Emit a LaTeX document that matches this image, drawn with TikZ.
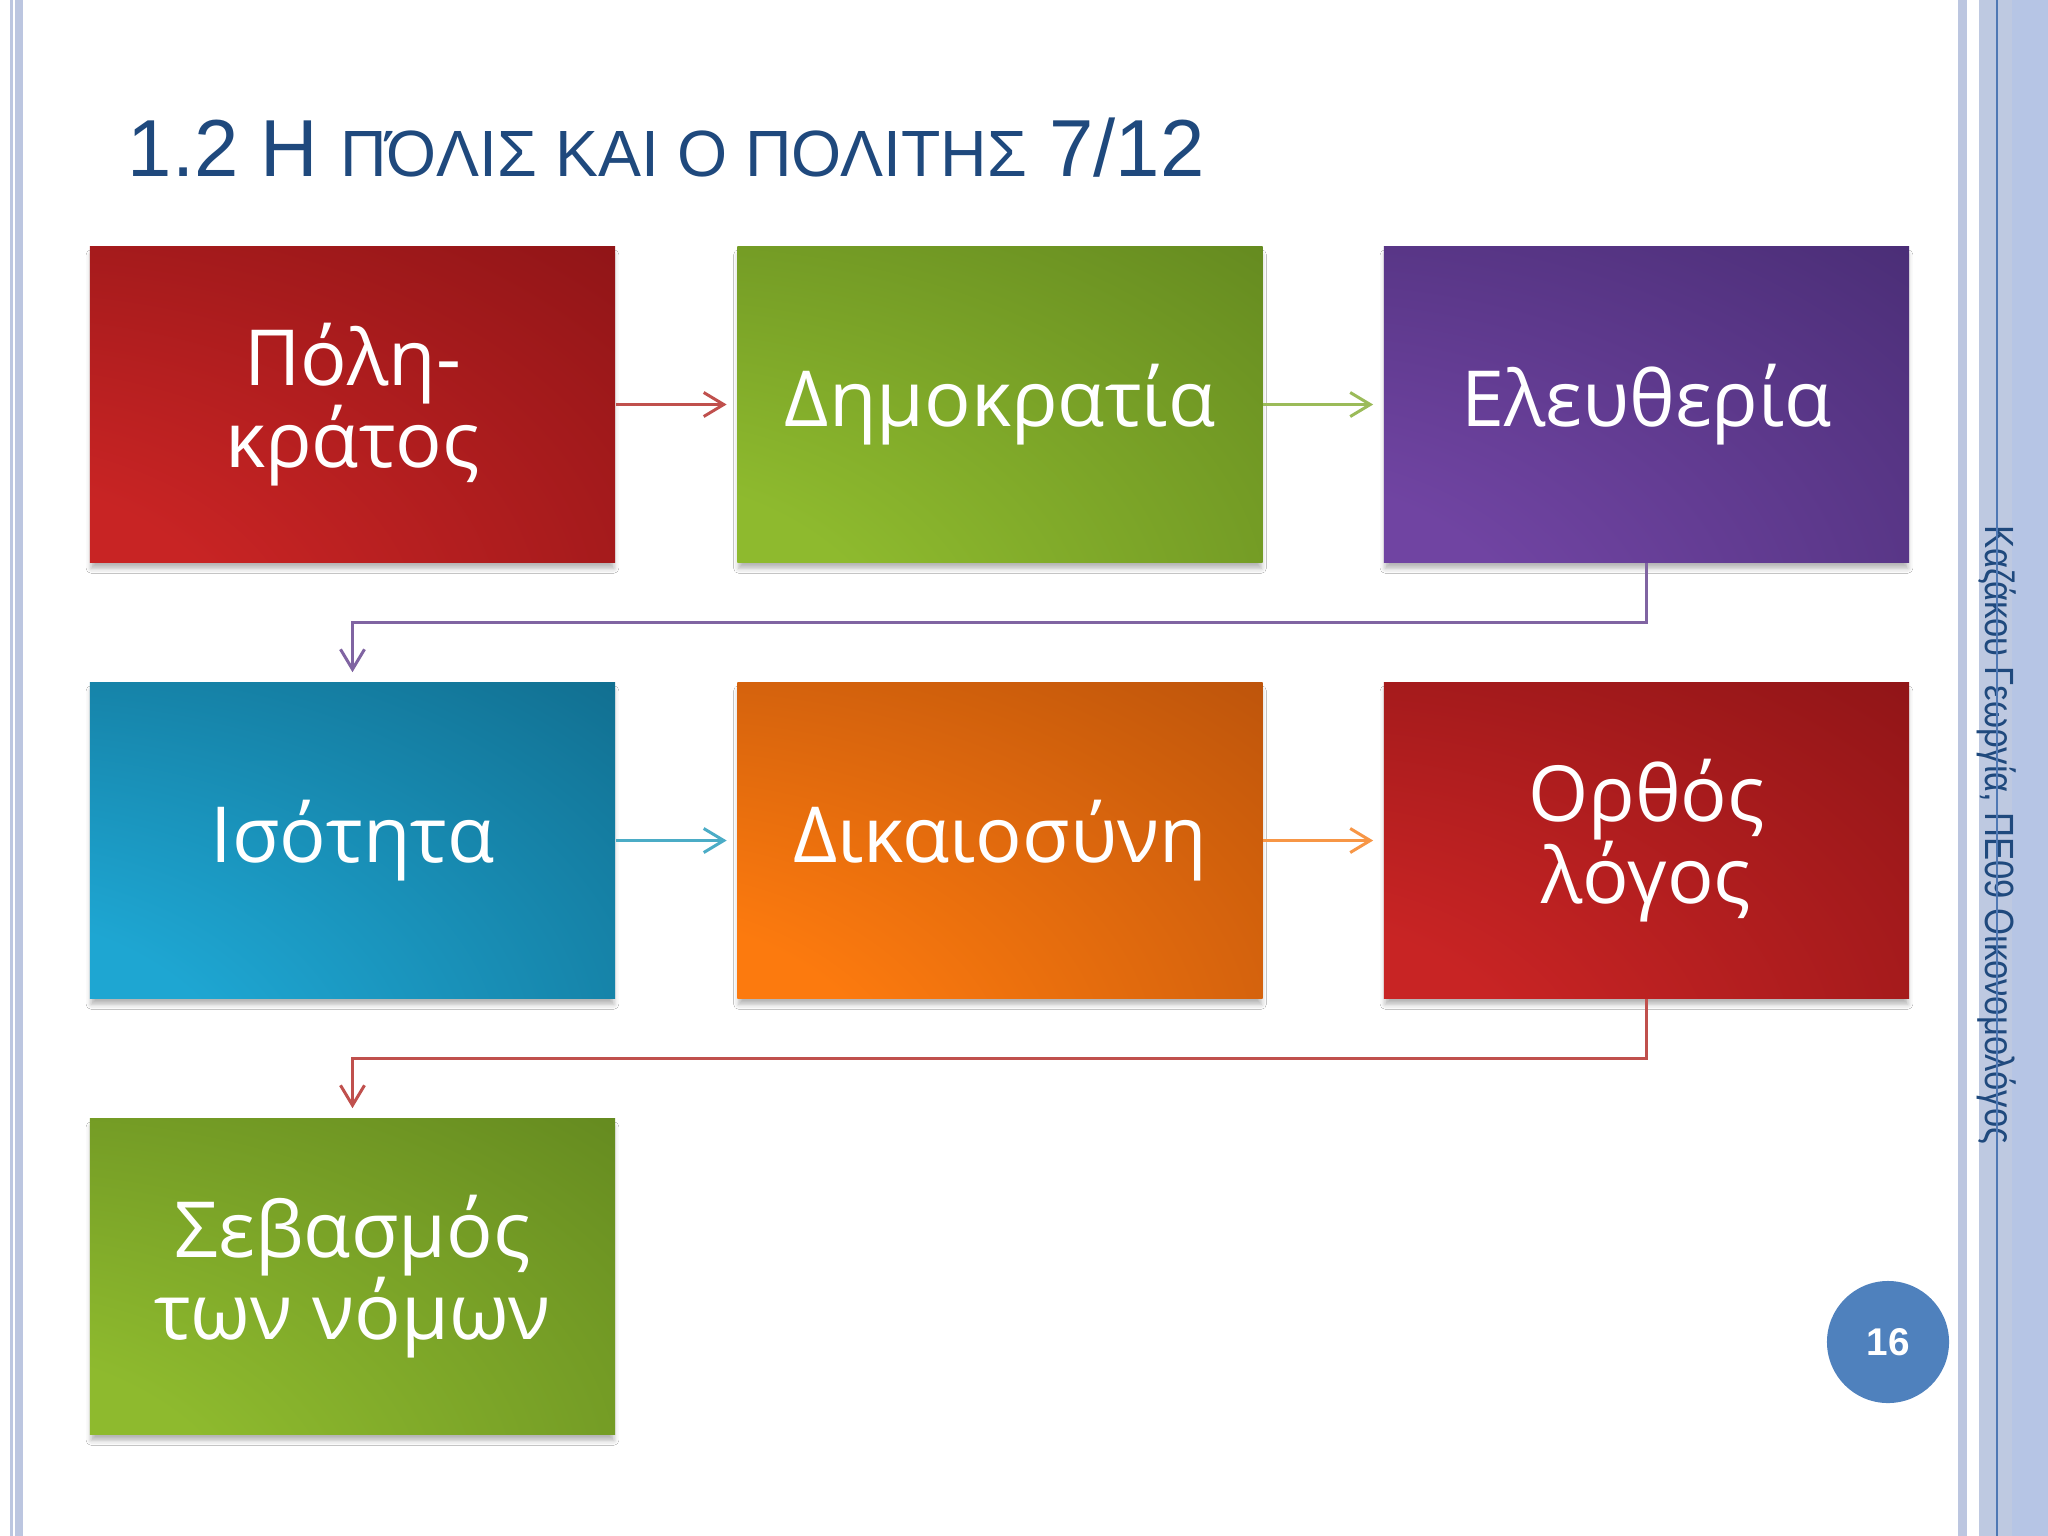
\documentclass[tikz,border=0pt]{standalone}
\usepackage{fontspec}
\setmainfont{Open Sans}
\newfontfamily\boxfont{Open Sans}
\newfontfamily\titlefont[FakeStretch=0.985]{Liberation Sans}
\newfontfamily\narrowfont[FakeStretch=0.85]{Liberation Sans}
\newfontfamily\numfont{Liberation Sans}
\usetikzlibrary{arrows.meta,shadows.blur}

\definecolor{titleblue}{RGB}{31,73,125}
\definecolor{stripeA}{RGB}{188,198,224}
\definecolor{stripeB}{RGB}{190,201,225}
\definecolor{stripeC}{RGB}{182,197,229}
\definecolor{stripeLine}{RGB}{79,120,180}
\definecolor{pageblue}{RGB}{79,129,189}

\definecolor{redB}{RGB}{200,36,36}
\definecolor{redD}{RGB}{105,10,14}
\definecolor{greenB}{RGB}{142,186,46}
\definecolor{greenD}{RGB}{72,105,22}
\definecolor{purpleB}{RGB}{112,68,162}
\definecolor{purpleD}{RGB}{48,30,88}
\definecolor{tealB}{RGB}{30,166,210}
\definecolor{tealD}{RGB}{8,72,98}
\definecolor{orangeB}{RGB}{252,122,14}
\definecolor{orangeD}{RGB}{145,58,10}

\definecolor{cRed}{RGB}{192,80,77}
\definecolor{cGreen}{RGB}{155,187,89}
\definecolor{cPurple}{RGB}{128,100,162}
\definecolor{cTeal}{RGB}{75,172,198}
\definecolor{cOrange}{RGB}{247,150,70}

\pgfdeclareradialshading{shRed}{\pgfpoint{-50bp}{-50bp}}{color(0bp)=(redB); color(30bp)=(redB); color(105bp)=(redD); color(160bp)=(redD)}
\pgfdeclareradialshading{shGreen}{\pgfpoint{-50bp}{-50bp}}{color(0bp)=(greenB); color(30bp)=(greenB); color(105bp)=(greenD); color(160bp)=(greenD)}
\pgfdeclareradialshading{shPurple}{\pgfpoint{-50bp}{-50bp}}{color(0bp)=(purpleB); color(30bp)=(purpleB); color(105bp)=(purpleD); color(160bp)=(purpleD)}
\pgfdeclareradialshading{shTeal}{\pgfpoint{-50bp}{-50bp}}{color(0bp)=(tealB); color(30bp)=(tealB); color(105bp)=(tealD); color(160bp)=(tealD)}
\pgfdeclareradialshading{shOrange}{\pgfpoint{-50bp}{-50bp}}{color(0bp)=(orangeB); color(30bp)=(orangeB); color(105bp)=(orangeD); color(160bp)=(orangeD)}

\tikzset{
  box/.style={rectangle, minimum width=5.25cm, minimum height=3.15cm, inner sep=0pt,
    text=white, align=center, font=\boxfont\fontsize{22pt}{23.5pt}\selectfont,
    blur shadow={shadow xshift=0pt, shadow yshift=-0.07cm, shadow blur radius=0.05cm, shadow opacity=30, shadow scale=0.995}},
  conn/.style={line width=0.85pt, -{Straight Barb[length=0.2cm,width=0.24cm]}, shorten >=0.1cm},
}

\begin{document}
\begin{tikzpicture}[x=0.01cm, y=-0.01cm]
\useasboundingbox (0,0) rectangle (2048,1536);
\fill[white] (0,0) rectangle (2048,1536);

% left border
\fill[stripeA] (10,0) rectangle (13,1536);
\fill[stripeA] (15,0) rectangle (23,1536);
% right border
\fill[stripeA] (1958,0) rectangle (1967,1536);
\fill[stripeB] (1979,0) rectangle (2012,1536);
\fill[stripeC] (2012,0) rectangle (2048,1536);

% title
\node[anchor=base west, inner sep=0pt, text=titleblue] (title) at (127,176)
  {\titlefont\fontsize{23pt}{23pt}\selectfont 1.2 Η {\fontsize{18.6pt}{19pt}\selectfont ΠΌΛΙΣ ΚΑΙ Ο ΠΟΛΙΤΗΣ} 7/12};

% boxes
\node[box, shading=shRed]    (b1) at (352.5,404.5)  {Πόλη-\\κράτος};
\node[box, shading=shGreen]  (b2) at (1000,404.5)   {Δημοκρατία};
\node[box, shading=shPurple] (b3) at (1646.5,404.5) {Ελευθερία};
\node[box, shading=shTeal]   (b4) at (352.5,840.5)  {Ισότητα};
\node[box, shading=shOrange] (b5) at (1000,840.5)   {Δικαιοσύνη};
\node[box, shading=shRed]    (b6) at (1646.5,840.5) {Ορθός\\λόγος};
\node[box, shading=shGreen]  (b7) at (352.5,1276.5) {Σεβασμός\\των νόμων};

% connectors
\draw[conn, cRed]    (b1.east) -- (b2.west);
\draw[conn, cGreen]  (b2.east) -- (b3.west);
\draw[conn, cPurple] (b3.south) -- ++(0,60) -| (b4.north);
\draw[conn, cTeal]   (b4.east) -- (b5.west);
\draw[conn, cOrange] (b5.east) -- (b6.west);
\draw[conn, cRed]    (b6.south) -- ++(0,60) -| (b7.north);

% author text and line
\node[rotate=-90, inner sep=0pt, text=titleblue, font=\narrowfont\fontsize{11.6pt}{13pt}\selectfont] (author) at (1997,835)
  {Καζάκου Γεωργία, ΠΕ09 Οικονομολόγος};
\fill[stripeLine] (1995.5,0) rectangle (1997.5,1536);

% page number
\node[circle, fill=pageblue, minimum size=1.22cm, inner sep=0pt, text=white,
  font=\numfont\bfseries\fontsize{11pt}{13pt}\selectfont] (page) at (1888,1342) {16};
\end{tikzpicture}
\end{document}
